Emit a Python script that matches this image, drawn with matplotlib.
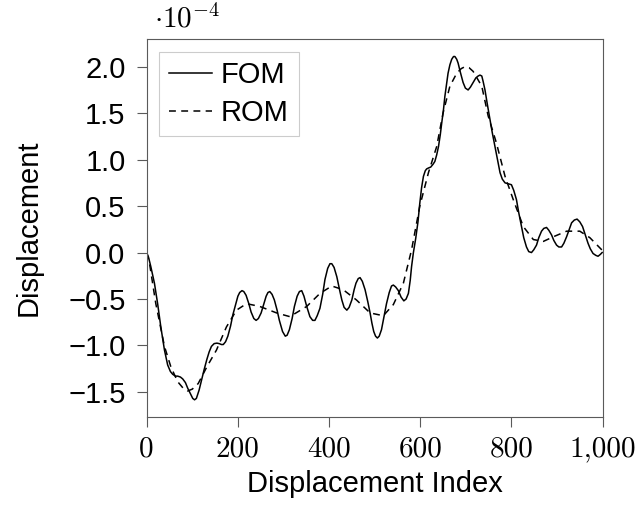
import matplotlib
matplotlib.use("Agg")
import matplotlib.pyplot as plt

# values (y in units of 1e-4)
fom_x = [0, 4, 9, 17, 24, 31, 39, 46, 52, 57, 63, 68, 74, 79, 85, 90, 96, 101,
         105, 109, 115, 120, 126, 132, 137, 142, 148, 154, 159, 164, 168, 173,
         178, 184, 189, 195, 200, 204, 209, 213, 218, 224, 229, 235, 240, 245,
         251, 257, 262, 266, 270, 275, 280, 286, 291, 298, 304, 308, 313, 319,
         324, 330, 335, 340, 345, 351, 358, 364, 369, 374, 380, 386, 391, 397,
         402, 406, 411, 417, 423, 428, 433, 439, 444, 450, 455, 459, 464, 468,
         473, 479, 485, 490, 494, 498, 502, 506, 510, 515, 520, 526, 532, 537,
         541, 546, 552, 558, 564, 569, 574, 578, 581, 585, 590, 595, 599, 603,
         607, 611, 614, 618, 623, 628, 632, 636, 640, 644, 647, 651, 654, 658,
         661, 665, 669, 673, 676, 680, 683, 688, 694, 699, 705, 710, 716, 722,
         727, 731, 735, 738, 742, 747, 753, 758, 764, 770, 775, 780, 786, 793,
         800, 805, 811, 816, 822, 827, 833, 838, 844, 849, 855, 860, 866, 871,
         877, 882, 888, 893, 899, 904, 910, 915, 921, 927, 932, 938, 944, 950,
         956, 962, 968, 973, 979, 985, 990, 995, 999]
fom_y = [0.00, -0.05, -0.15, -0.33, -0.55, -0.80, -1.05, -1.21, -1.28, -1.31,
         -1.33, -1.33, -1.34, -1.36, -1.40, -1.46, -1.52, -1.57, -1.585, -1.57,
         -1.48, -1.38, -1.26, -1.15, -1.07, -1.01, -0.98, -0.975, -0.98, -0.99,
         -0.99, -0.96, -0.90, -0.79, -0.67, -0.56, -0.47, -0.43, -0.41, -0.42,
         -0.46, -0.55, -0.64, -0.71, -0.73, -0.71, -0.65, -0.55, -0.47, -0.43,
         -0.42, -0.45, -0.51, -0.62, -0.73, -0.85, -0.90, -0.89, -0.83, -0.71,
         -0.58, -0.47, -0.42, -0.41, -0.47, -0.58, -0.69, -0.73, -0.73, -0.68,
         -0.60, -0.45, -0.29, -0.17, -0.12, -0.12, -0.16, -0.26, -0.40, -0.51,
         -0.59, -0.62, -0.59, -0.51, -0.40, -0.33, -0.28, -0.27, -0.31, -0.40,
         -0.53, -0.65, -0.76, -0.85, -0.90, -0.92, -0.90, -0.83, -0.70, -0.55,
         -0.43, -0.36, -0.35, -0.37, -0.41, -0.48, -0.52, -0.50, -0.44, -0.30,
         -0.15, 0.00, 0.15, 0.33, 0.53, 0.70, 0.82, 0.88, 0.90, 0.91, 0.92, 0.95,
         0.98, 1.05, 1.14, 1.27, 1.39, 1.54, 1.68, 1.82, 1.93, 2.02, 2.08, 2.11,
         2.11, 2.08, 2.04, 1.94, 1.83, 1.77, 1.75, 1.78, 1.83, 1.88, 1.90, 1.91,
         1.90, 1.84, 1.75, 1.60, 1.43, 1.29, 1.14, 0.99, 0.86, 0.79, 0.75, 0.74,
         0.73, 0.67, 0.57, 0.43, 0.28, 0.16, 0.06, 0.01, 0.00, 0.03, 0.08, 0.16,
         0.23, 0.26, 0.27, 0.24, 0.19, 0.13, 0.08, 0.06, 0.06, 0.10, 0.17, 0.25,
         0.32, 0.35, 0.36, 0.33, 0.28, 0.19, 0.10, 0.04, -0.01, -0.03, -0.04,
         -0.02, 0.00]

rom_x = [0, 6, 20, 39, 53, 68, 80, 90, 100, 113, 132, 153, 175, 197, 219, 248,
         285, 314, 351, 380, 406, 431, 460, 490, 519, 541, 563, 581, 599, 618,
         636, 650, 665, 680, 690, 698, 707, 716, 735, 749, 767, 786, 804, 826,
         848, 870, 892, 921, 950, 972, 994, 1000]
rom_y = [0.00, -0.11, -0.55, -1.01, -1.23, -1.39, -1.46, -1.49, -1.47, -1.41,
         -1.23, -1.05, -0.80, -0.62, -0.55, -0.58, -0.65, -0.69, -0.58, -0.44,
         -0.36, -0.40, -0.51, -0.65, -0.68, -0.56, -0.33, 0.03, 0.50, 0.86,
         1.14, 1.50, 1.79, 1.93, 1.98, 2.00, 1.99, 1.95, 1.79, 1.47, 1.18, 0.82,
         0.57, 0.28, 0.14, 0.12, 0.17, 0.23, 0.23, 0.16, 0.05, 0.02]

xticks = [0, 200, 400, 600, 800, 1000]
xtick_labels = ["0", "200", "400", "600", "800", "1,000"]
yticks = [-1.5, -1.0, -0.5, 0.0, 0.5, 1.0, 1.5, 2.0]
ytick_labels = ["\u22121.5", "\u22121.0", "\u22120.5", "0.0", "0.5", "1.0", "1.5", "2.0"]

plt.rcParams["font.family"] = ["Liberation Sans", "DejaVu Sans"]
plt.rcParams["mathtext.fontset"] = "cm"
fs = 21

fig = plt.figure(figsize=(6.35, 5.16), dpi=100)
ax = fig.add_axes([0.231, 0.1924, 0.718, 0.7314])

ax.plot(fom_x, fom_y, color="black", lw=1.1, label="FOM")
ax.plot(rom_x, rom_y, color="black", lw=1.1, dashes=(4.5, 3.5), label="ROM")

ax.set_xlim(0, 1000)
ax.set_ylim(-1.767, 2.295)

ax.set_xticks(xticks, labels=xtick_labels, fontfamily="cmr10", fontsize=fs)
ax.set_yticks(yticks, labels=ytick_labels, fontsize=fs)
ax.tick_params(direction="out", length=7.2, width=0.8, color="#5a5a5a")
ax.tick_params(axis="x", pad=7)
ax.tick_params(axis="y", pad=8)
for s in ax.spines.values():
    s.set_color("#5a5a5a")
    s.set_linewidth(0.8)

ax.set_xlabel("Displacement Index", fontsize=fs)
ax.set_ylabel("Displacement", fontsize=fs)
ax.xaxis.set_label_coords(0.5, -0.14)
ax.yaxis.set_label_coords(-0.228, 0.5)

fig.text(0.243, 0.946, r"$\cdot 10^{-4}$", fontsize=fs, va="baseline", ha="left")

leg = ax.legend(loc="upper left", fontsize=fs, fancybox=False, framealpha=1,
                edgecolor="#cccccc", handlelength=1.5, handletextpad=0.3,
                labelspacing=0.33, borderaxespad=0.42, borderpad=0.33)
leg.get_frame().set_linewidth(0.8)

fig.savefig("out.png", dpi=100)
